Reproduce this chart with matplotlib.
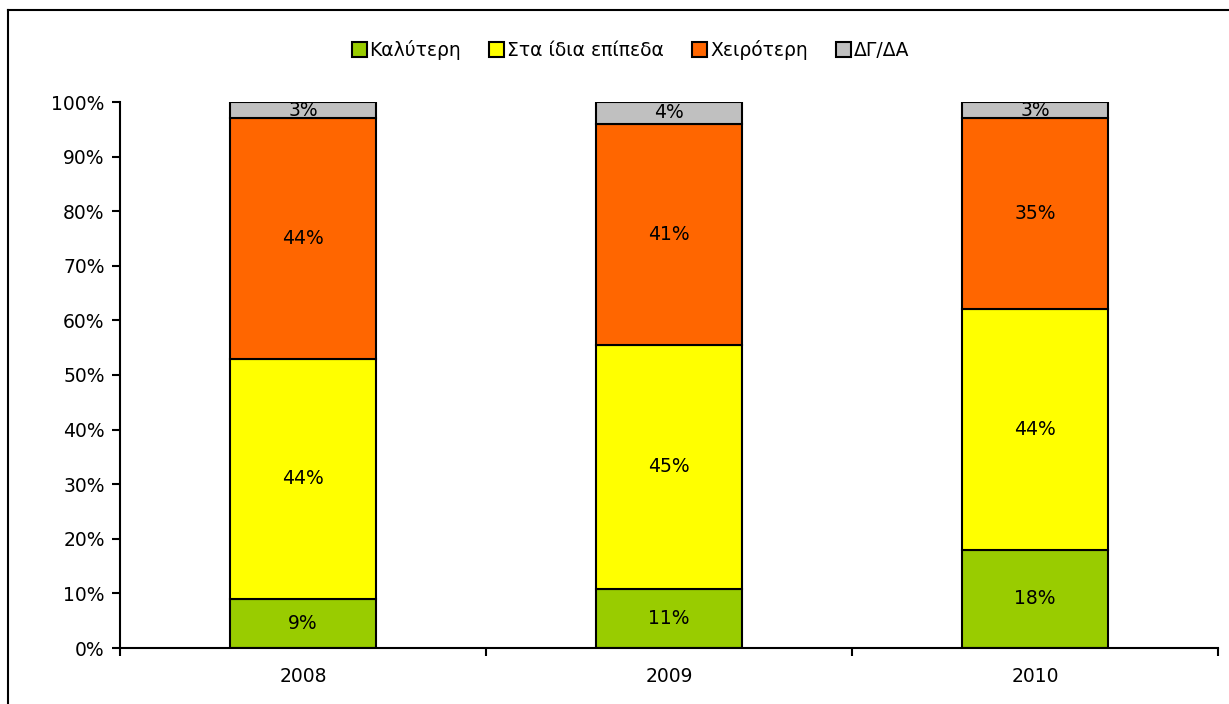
import matplotlib.pyplot as plt
import numpy as np
from matplotlib.lines import Line2D

years = ["2008", "2009", "2010"]
series = ["Καλύτερη", "Στα ίδια επίπεδα", "Χειρότερη", "ΔΓ/ΔΑ"]
better = [9, 11, 18]
same = [44, 45, 44]
worse = [44, 41, 35]
dkna = [3, 4, 3]
colors = ["#99CC00", "#FFFF00", "#FF6600", "#C0C0C0"]

plt.rcParams['font.family'] = ['DejaVu Sans']
fs = 13.5

data = np.array([better, same, worse, dkna], dtype=float)
# 100% stacked, like the original spreadsheet chart
shares = data / data.sum(axis=0) * 100

fig = plt.figure(figsize=(12.29, 7.04), dpi=100)
ax = fig.add_axes([120 / 1229, 56 / 704, 1098 / 1229, 546 / 704])

x = np.arange(len(years))
bottom = np.zeros(len(years))
for i, name in enumerate(series):
    ax.bar(x, shares[i], 0.4, bottom=bottom, color=colors[i],
           edgecolor="black", linewidth=1.5, label=name)
    for j in range(len(years)):
        ax.text(x[j], bottom[j] + shares[i][j] / 2, "%d%%" % data[i][j],
                ha="center", va="center", fontsize=fs)
    bottom += shares[i]

ax.set_xlim(-0.5, 2.5)
ax.set_ylim(0, 100)
ax.set_yticks(np.arange(0, 101, 10))
ax.set_yticklabels(["%d%%" % v for v in range(0, 101, 10)], fontsize=fs)
ax.set_xticks(x)
ax.set_xticklabels(years, fontsize=fs)
ax.set_xticks([-0.5, 0.5, 1.5, 2.5], minor=True)
ax.tick_params(axis="x", which="major", length=0, pad=14)
ax.tick_params(axis="x", which="minor", length=6, width=1.5, direction="out")
ax.tick_params(axis="y", length=6, width=1.5, direction="out", pad=5)
for s in ["top", "right"]:
    ax.spines[s].set_visible(False)
ax.spines["left"].set_linewidth(1.5)
ax.spines["bottom"].set_linewidth(1.5)

fig.legend(loc="center", bbox_to_anchor=(0.513, 0.929), ncol=4, frameon=False,
           handlelength=0.8, handleheight=0.8, handletextpad=0.15,
           columnspacing=1.5, fontsize=fs)

# chart area border: only left and top edges fall inside the image
fx = 7.5 / 1229
fy = 1 - 10 / 704
fig.lines.append(Line2D([fx, fx], [0, fy], transform=fig.transFigure,
                        color="black", linewidth=1.5))
fig.lines.append(Line2D([fx, 1], [fy, fy], transform=fig.transFigure,
                        color="black", linewidth=1.5))

fig.savefig("out.png", dpi=100)
